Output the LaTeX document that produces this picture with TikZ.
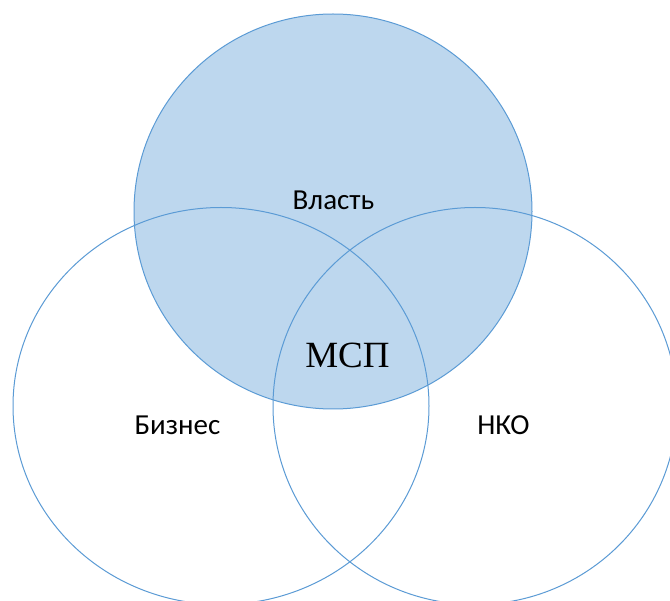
\documentclass[tikz,border=0pt]{standalone}
\usepackage{fontspec}
\setmainfont{Carlito}
\newfontfamily\timesfont{Liberation Serif}
\definecolor{vfill}{HTML}{BDD7EE}
\definecolor{vline}{HTML}{5B9BD5}
\tikzset{
  setc/.style={draw=vline, line width=1pt},
  lbl/.style={anchor=base, inner sep=0pt, font=\fontsize{29}{34}\selectfont},
  biglbl/.style={anchor=base, inner sep=0pt, font=\timesfont\fontsize{37}{44}\selectfont}
}
\begin{document}
\begin{tikzpicture}[x=1pt,y=-1pt]
\useasboundingbox (0,0) rectangle (670,601);
\clip (0,0) rectangle (670,601);
\fill[white] (0,0) rectangle (670,601);
\path[setc, fill=vfill] (333,211.5) ellipse [x radius=199, y radius=197.5];
\path[setc] (221,406) ellipse [x radius=208, y radius=198.5];
\path[setc] (475,406) ellipse [x radius=202, y radius=198.5];
\node[lbl] (vlast) at (333.5,209.3) {Власть};
\node[lbl] (biz) at (177.5,435) {Бизнес};
\node[lbl] (nko) at (503.5,435) {НКО};
\node[biglbl] (msp) at (347.5,367.7) {МСП};
\end{tikzpicture}
\end{document}
